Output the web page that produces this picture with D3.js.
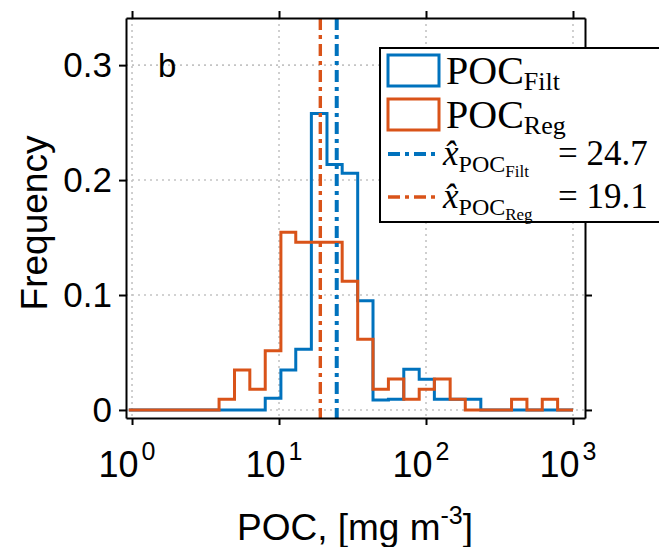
<!DOCTYPE html>
<html>
<head>
<meta charset="utf-8">
<script src="https://cdn.jsdelivr.net/npm/d3@7"></script>
<style>
  body { margin: 0; background: #fff; }
  svg text { font-family: "Liberation Sans", Arial, sans-serif; }
  .leg text { font-family: "Liberation Serif", "Times New Roman", serif; }
</style>
</head>
<body>
<script>
// histogram bin edges (mg m^-3), log spaced
var binEdges = [0.95, 3.91, 4.98, 6.33, 8.06, 10.3, 13.0, 16.6, 21.2, 26.9, 34.3, 43.6,
                55.5, 70.6, 89.9, 114, 146, 185, 236, 300, 382, 486, 618, 786, 1000];
// probability per bin
var filtFreq = [0, 0, 0, 0, 0.0102, 0.0348, 0.0528, 0.258, 0.2136, 0.206, 0.095, 0.0087,
                0.0093, 0.0354, 0.0267, 0.0093, 0.0093, 0.0093, 0, 0, 0, 0, 0, 0];
var regFreq  = [0, 0.0093, 0.0348, 0.018, 0.0516, 0.1545, 0.1458, 0.1458, 0.1458, 0.112, 0.0615,
                0.018, 0.027, 0.0093, 0.018, 0.027, 0.0093, 0, 0, 0, 0.0093, 0, 0.0093, 0];
var medians = [24.7, 19.1];   // Filt, Reg
var xTicks = [1, 10, 100, 1000];
var xTickExp = ["0", "1", "2", "3"];
var yTicks = [0, 0.1, 0.2, 0.3];

var blue = "#0072BD", orange = "#D95319";

var svg = d3.select("body").append("svg")
            .attr("width", 659)
            .attr("height", 547);

var x = d3.scaleLog().domain([0.91, 1207]).range([126, 585]);
var y = d3.scaleLinear().domain([-0.007, 0.341]).range([418, 18]);

// grid
var grid = svg.append("g")
              .attr("stroke", "#c4c4c4")
              .attr("stroke-width", 1.6)
              .attr("stroke-dasharray", "2,4");
grid.selectAll(".gx").data(xTicks).enter().append("line")
    .attr("x1", d => x(d)).attr("x2", d => x(d))
    .attr("y1", 18).attr("y2", 418);
grid.selectAll(".gy").data(yTicks).enter().append("line")
    .attr("y1", d => y(d)).attr("y2", d => y(d))
    .attr("x1", 126).attr("x2", 585);

// stairs outlines
function stairs(freq) {
  var pts = [[binEdges[0], 0]];
  freq.forEach(function(v, i) {
    pts.push([binEdges[i], v]);
    pts.push([binEdges[i + 1], v]);
  });
  pts.push([binEdges[binEdges.length - 1], 0]);
  return d3.line().x(d => x(d[0])).y(d => y(d[1]))(pts);
}

svg.append("path").attr("d", stairs(filtFreq))
   .attr("fill", "none").attr("stroke", blue).attr("stroke-width", 3);
svg.append("path").attr("d", stairs(regFreq))
   .attr("fill", "none").attr("stroke", orange).attr("stroke-width", 3);

// median lines
var medColors = [blue, orange];
var medWidths = [4, 3.4];
var medDash = "12,5,4,5";
svg.selectAll(".med").data(medians).enter().append("line")
   .attr("x1", d => x(d)).attr("x2", d => x(d))
   .attr("y1", 18).attr("y2", 418)
   .attr("stroke", (d, i) => medColors[i])
   .attr("stroke-width", (d, i) => medWidths[i])
   .attr("stroke-dasharray", medDash);

// axes
function styleAxis(g) {
  g.selectAll("path, line").attr("stroke", "#000").attr("stroke-width", 2);
}
svg.append("g").attr("transform", "translate(0,418)")
   .call(d3.axisBottom(x).tickValues(xTicks).tickFormat(() => "").tickSize(7).tickSizeOuter(0))
   .call(styleAxis);
svg.append("g").attr("transform", "translate(0,18)")
   .call(d3.axisTop(x).tickValues(xTicks).tickFormat(() => "").tickSize(7).tickSizeOuter(0))
   .call(styleAxis);
svg.append("g").attr("transform", "translate(126,0)")
   .call(d3.axisLeft(y).tickValues(yTicks).tickFormat(d => d === 0 ? "0" : d3.format(".1f")(d))
         .tickSize(7).tickSizeOuter(0).tickPadding(7))
   .call(styleAxis)
   .call(g => g.selectAll("text").attr("font-size", 35).attr("fill", "#000")
               .attr("font-family", "Liberation Sans, Arial, sans-serif"));
svg.append("g").attr("transform", "translate(585,0)")
   .call(d3.axisRight(y).tickValues(yTicks).tickFormat(() => "").tickSize(7).tickSizeOuter(0))
   .call(styleAxis);

// x tick labels with exponents
var xl = svg.selectAll(".xlab").data(xTicks).enter().append("text")
   .attr("x", d => x(d) - 5)
   .attr("y", 477)
   .attr("text-anchor", "middle")
   .attr("font-size", 36);
xl.append("tspan").text("10");
xl.append("tspan").attr("font-size", 25).attr("dx", 3).attr("dy", -17).text((d, i) => xTickExp[i]);

// axis titles
var xt = svg.append("text").attr("x", 355).attr("y", 540)
   .attr("text-anchor", "middle").attr("font-size", 37);
xt.append("tspan").text("POC, [mg m");
xt.append("tspan").attr("font-size", 25).attr("dy", -16).text("-3");
xt.append("tspan").attr("dy", 16).text("]");

svg.append("text")
   .attr("transform", "translate(47,223) rotate(-90)")
   .attr("text-anchor", "middle").attr("font-size", 37)
   .text("Frequency");

svg.append("text").attr("x", 158).attr("y", 77).attr("font-size", 33).text("b");

// legend
var leg = svg.append("g").attr("class", "leg");
leg.append("rect").attr("x", 380).attr("y", 48).attr("width", 300).attr("height", 174)
   .attr("fill", "#fff").attr("stroke", "#000").attr("stroke-width", 2);

var histNames = [["POC", "Filt"], ["POC", "Reg"]];
var histColors = [blue, orange];
var rowY = [71, 115, 154, 197];

histNames.forEach(function(n, i) {
  leg.append("rect").attr("x", 388).attr("y", rowY[i] - 16).attr("width", 51).attr("height", 31)
     .attr("fill", "none").attr("stroke", histColors[i]).attr("stroke-width", 3);
  var t = leg.append("text").attr("x", 446).attr("y", rowY[i] + 13).attr("font-size", 40);
  t.append("tspan").text(n[0]);
  t.append("tspan").attr("font-size", 26).attr("dy", 6).text(n[1]);
});

medians.forEach(function(m, i) {
  var yy = rowY[i + 2];
  leg.append("line").attr("x1", 388).attr("x2", 439).attr("y1", yy).attr("y2", yy)
     .attr("stroke", medColors[i]).attr("stroke-width", medWidths[i])
     .attr("stroke-dasharray", medDash);
  var t = leg.append("text").attr("x", 443).attr("y", yy + 11).attr("font-size", 35);
  t.append("tspan").attr("font-style", "italic").text("x\u0302");
  t.append("tspan").attr("font-size", 24).attr("dy", 7).text("POC");
  t.append("tspan").attr("font-size", 17).attr("dy", 5).text(histNames[i][1]);
  t.append("tspan").attr("x", 558).attr("dy", -12).text("= " + m);
});
</script>
</body>
</html>
